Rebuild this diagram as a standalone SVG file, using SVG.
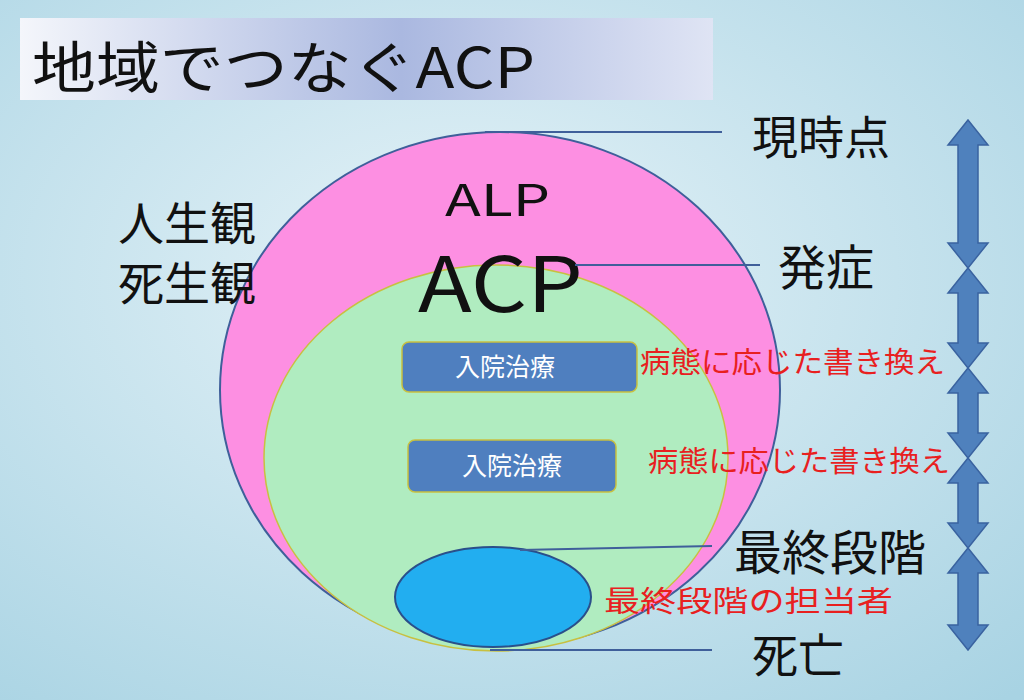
<svg xmlns="http://www.w3.org/2000/svg" width="1024" height="700" viewBox="0 0 1024 700">
<defs>
<radialGradient id="bg" cx="0.45" cy="0.4" r="0.8"><stop offset="0" stop-color="#e6f3f8"/><stop offset="1" stop-color="#a8d3e3"/></radialGradient>
<linearGradient id="tb" x1="0" y1="0" x2="1" y2="0"><stop offset="0" stop-color="#f4f6fb"/><stop offset="0.55" stop-color="#aab8e0"/><stop offset="1" stop-color="#dfe4f4"/></linearGradient>
<style>
.t{font-family:"Noto Sans CJK JP","Liberation Sans",sans-serif;fill:#111}
.r{font-family:"Noto Sans CJK JP",sans-serif;fill:#e8201f;font-size:29px}
.box{fill:#4f7fbf;stroke:#c8c040;stroke-width:1.5}
.bt{font-family:"Noto Sans CJK JP",sans-serif;fill:#fff;font-size:25px}
.ln{stroke:#3f5f9a;stroke-width:2}
.ar{fill:#4f81bd;stroke:#3a63a0;stroke-width:1.5}
</style>
</defs>
<rect width="1024" height="700" fill="url(#bg)"/>
<g id="title"><rect x="20" y="18" width="693" height="82" fill="url(#tb)"/><text class="t" x="32" y="88" font-size="56" textLength="503" lengthAdjust="spacingAndGlyphs">地域でつなぐACP</text></g>
<g id="alp"><ellipse cx="500" cy="390" rx="280" ry="258" fill="#fd8fe2" stroke="#3f5f9a" stroke-width="2"/><text class="t" x="445" y="216" font-size="44" textLength="105" lengthAdjust="spacingAndGlyphs" font-family="Liberation Sans">ALP</text></g>
<g id="acp"><ellipse cx="496" cy="458" rx="232" ry="193" fill="#b0ecc0" stroke="#c8c040" stroke-width="1.5"/><text class="t" x="418" y="312" font-size="76" textLength="165" lengthAdjust="spacingAndGlyphs">ACP</text></g>
<g id="final"><ellipse cx="493" cy="597" rx="98" ry="50" fill="#22aef0" stroke="#2a4f8a" stroke-width="2"/></g>
<g id="b1"><rect class="box" x="402" y="342" width="235" height="50" rx="7"/><text class="bt" x="505" y="376" text-anchor="middle">入院治療</text></g>
<g id="b2"><rect class="box" x="408" y="440" width="208" height="52" rx="7"/><text class="bt" x="512" y="475" text-anchor="middle">入院治療</text></g>
<g id="connectors">
<line class="ln" x1="485" y1="132" x2="722" y2="132"/>
<line class="ln" x1="575" y1="265" x2="760" y2="265"/>
<line class="ln" x1="520" y1="550" x2="712" y2="546"/>
<line class="ln" x1="490" y1="650" x2="712" y2="650"/>
</g>
<g id="labels">
<text class="t" x="752" y="154" font-size="46">現時点</text>
<text class="t" x="778" y="285" font-size="48">発症</text>
<text class="t" x="734" y="570" font-size="48">最終段階</text>
<text class="t" x="752" y="672" font-size="46">死亡</text>
<text class="t" x="118" y="240" font-size="46">人生観</text>
<text class="t" x="118" y="300" font-size="46">死生観</text>
<text class="r" x="640" y="373" textLength="305" lengthAdjust="spacingAndGlyphs">病態に応じた書き換え</text>
<text class="r" x="648" y="472" textLength="302" lengthAdjust="spacingAndGlyphs">病態に応じた書き換え</text>
<text class="r" x="604" y="612" font-size="33" textLength="289" lengthAdjust="spacingAndGlyphs">最終段階の担当者</text>
</g>
<g id="arrows">
<polygon class="ar" points="968,120 988,145 978,145 978,243 988,243 968,268 948,243 958,243 958,145 948,145"/>
<polygon class="ar" points="968,268 988,293 978,293 978,343 988,343 968,368 948,343 958,343 958,293 948,293"/>
<polygon class="ar" points="968,368 988,393 978,393 978,433 988,433 968,458 948,433 958,433 958,393 948,393"/>
<polygon class="ar" points="968,458 988,483 978,483 978,523 988,523 968,548 948,523 958,523 958,483 948,483"/>
<polygon class="ar" points="968,548 988,573 978,573 978,625 988,625 968,650 948,625 958,625 958,573 948,573"/>
</g>
</svg>
